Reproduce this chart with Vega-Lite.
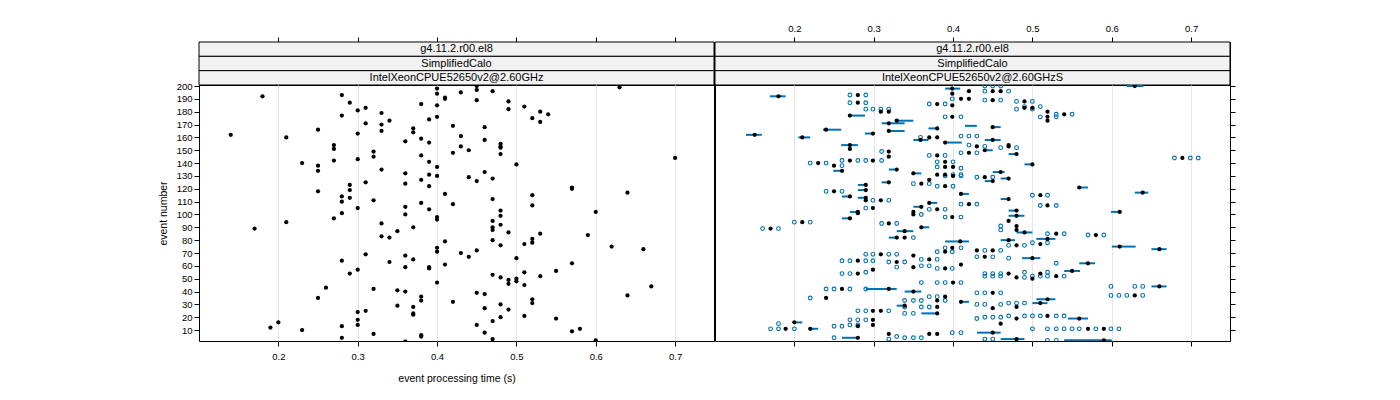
{
"$schema":"https://vega.github.io/schema/vega-lite/v6.json",
"padding":{"left":157,"top":22,"right":5,"bottom":5},
"background":"white",
"config":{"view":{"stroke":"black","strokeWidth":1},"font":"Liberation Sans",
 "axis":{"labelFont":"Liberation Sans","labelFontSize":9.5,"labelColor":"black","tickColor":"black","tickSize":5,"domain":false,"labelPadding":2,"format":".1f","titleFont":"Liberation Sans","titleFontWeight":"normal","titleFontSize":10.5,"titleColor":"black","gridColor":"#e6e6e6","gridWidth":1}},
"datasets":{
"strips":[{"panel":"L","level":1,"label":"g4.11.2.r00.el8"},{"panel":"L","level":2,"label":"SimplifiedCalo"},{"panel":"L","level":3,"label":"IntelXeonCPUE52650v2@2.60GHz"},{"panel":"R","level":1,"label":"g4.11.2.r00.el8"},{"panel":"R","level":2,"label":"SimplifiedCalo"},{"panel":"R","level":3,"label":"IntelXeonCPUE52650v2@2.60GHzS"}],
"left":[{"event":199,"time":0.63},{"event":198,"time":0.40},{"event":200,"time":0.45},{"event":197,"time":0.45},{"event":194,"time":0.40},{"event":195,"time":0.43},{"event":196,"time":0.47},{"event":192,"time":0.18},{"event":193,"time":0.28},{"event":191,"time":0.41},{"event":190,"time":0.41},{"event":189,"time":0.45},{"event":188,"time":0.49},{"event":187,"time":0.29},{"event":186,"time":0.38},{"event":185,"time":0.40},{"event":183,"time":0.31},{"event":181,"time":0.30},{"event":182,"time":0.49},{"event":184,"time":0.51},{"event":180,"time":0.53},{"event":178,"time":0.54},{"event":179,"time":0.33},{"event":177,"time":0.28},{"event":176,"time":0.40},{"event":174,"time":0.39},{"event":173,"time":0.34},{"event":175,"time":0.52},{"event":172,"time":0.53},{"event":171,"time":0.31},{"event":170,"time":0.33},{"event":169,"time":0.42},{"event":168,"time":0.46},{"event":167,"time":0.37},{"event":164,"time":0.37},{"event":166,"time":0.25},{"event":165,"time":0.33},{"event":162,"time":0.14},{"event":163,"time":0.30},{"event":160,"time":0.21},{"event":161,"time":0.43},{"event":159,"time":0.38},{"event":158,"time":0.46},{"event":157,"time":0.36},{"event":156,"time":0.39},{"event":154,"time":0.27},{"event":151,"time":0.27},{"event":155,"time":0.48},{"event":153,"time":0.48},{"event":152,"time":0.48},{"event":153,"time":0.43},{"event":150,"time":0.44},{"event":148,"time":0.42},{"event":149,"time":0.32},{"event":145,"time":0.32},{"event":147,"time":0.48},{"event":146,"time":0.38},{"event":144,"time":0.70},{"event":143,"time":0.30},{"event":142,"time":0.27},{"event":140,"time":0.23},{"event":141,"time":0.39},{"event":139,"time":0.50},{"event":138,"time":0.25},{"event":137,"time":0.40},{"event":134,"time":0.25},{"event":135,"time":0.33},{"event":132,"time":0.36},{"event":133,"time":0.46},{"event":131,"time":0.39},{"event":130,"time":0.40},{"event":129,"time":0.44},{"event":126,"time":0.45},{"event":128,"time":0.47},{"event":127,"time":0.38},{"event":125,"time":0.31},{"event":124,"time":0.36},{"event":123,"time":0.29},{"event":119,"time":0.29},{"event":122,"time":0.39},{"event":121,"time":0.57},{"event":120,"time":0.57},{"event":118,"time":0.25},{"event":117,"time":0.64},{"event":116,"time":0.41},{"event":115,"time":0.52},{"event":114,"time":0.28},{"event":110,"time":0.28},{"event":113,"time":0.29},{"event":112,"time":0.47},{"event":111,"time":0.32},{"event":109,"time":0.38},{"event":108,"time":0.42},{"event":107,"time":0.52},{"event":106,"time":0.36},{"event":105,"time":0.30},{"event":104,"time":0.39},{"event":103,"time":0.48},{"event":99,"time":0.48},{"event":102,"time":0.60},{"event":101,"time":0.28},{"event":100,"time":0.36},{"event":98,"time":0.40},{"event":96,"time":0.40},{"event":97,"time":0.27},{"event":95,"time":0.47},{"event":94,"time":0.21},{"event":93,"time":0.33},{"event":92,"time":0.48},{"event":90,"time":0.47},{"event":88,"time":0.47},{"event":89,"time":0.17},{"event":90,"time":0.37},{"event":87,"time":0.35},{"event":86,"time":0.49},{"event":85,"time":0.53},{"event":84,"time":0.59},{"event":83,"time":0.33},{"event":82,"time":0.34},{"event":81,"time":0.52},{"event":78,"time":0.52},{"event":80,"time":0.47},{"event":79,"time":0.41},{"event":77,"time":0.51},{"event":76,"time":0.48},{"event":74,"time":0.40},{"event":71,"time":0.40},{"event":75,"time":0.62},{"event":73,"time":0.66},{"event":72,"time":0.45},{"event":70,"time":0.43},{"event":67,"time":0.44},{"event":69,"time":0.31},{"event":68,"time":0.36},{"event":66,"time":0.50},{"event":64,"time":0.28},{"event":65,"time":0.37},{"event":63,"time":0.34},{"event":59,"time":0.36},{"event":59,"time":0.39},{"event":58,"time":0.39},{"event":61,"time":0.41},{"event":62,"time":0.57},{"event":57,"time":0.30},{"event":54,"time":0.29},{"event":56,"time":0.55},{"event":55,"time":0.51},{"event":52,"time":0.53},{"event":53,"time":0.47},{"event":51,"time":0.48},{"event":49,"time":0.49},{"event":46,"time":0.49},{"event":50,"time":0.50},{"event":48,"time":0.50},{"event":45,"time":0.51},{"event":47,"time":0.40},{"event":43,"time":0.26},{"event":42,"time":0.32},{"event":41,"time":0.35},{"event":40,"time":0.36},{"event":44,"time":0.67},{"event":37,"time":0.64},{"event":39,"time":0.45},{"event":38,"time":0.46},{"event":35,"time":0.25},{"event":36,"time":0.38},{"event":33,"time":0.38},{"event":32,"time":0.42},{"event":34,"time":0.52},{"event":31,"time":0.52},{"event":29,"time":0.35},{"event":28,"time":0.37},{"event":27,"time":0.46},{"event":30,"time":0.48},{"event":26,"time":0.49},{"event":24,"time":0.30},{"event":25,"time":0.31},{"event":23,"time":0.37},{"event":22,"time":0.37},{"event":21,"time":0.51},{"event":19,"time":0.55},{"event":20,"time":0.48},{"event":17,"time":0.47},{"event":14,"time":0.45},{"event":18,"time":0.30},{"event":14,"time":0.30},{"event":16,"time":0.20},{"event":12,"time":0.19},{"event":10,"time":0.23},{"event":13,"time":0.28},{"event":4,"time":0.28},{"event":7,"time":0.32},{"event":9,"time":0.57},{"event":11,"time":0.58},{"event":8,"time":0.46},{"event":3,"time":0.47},{"event":6,"time":0.38},{"event":5,"time":0.38},{"event":1,"time":0.36},{"event":2,"time":0.60}],
"rdots":[{"event":192,"time":0.180},{"event":162,"time":0.150},{"event":160,"time":0.210},{"event":166,"time":0.240},{"event":177,"time":0.270},{"event":154,"time":0.270},{"event":193,"time":0.280},{"event":187,"time":0.280},{"event":180,"time":0.309},{"event":180,"time":0.319},{"event":171,"time":0.319},{"event":173,"time":0.329},{"event":165,"time":0.319},{"event":163,"time":0.299},{"event":160,"time":0.370},{"event":160,"time":0.380},{"event":167,"time":0.380},{"event":158,"time":0.359},{"event":156,"time":0.390},{"event":186,"time":0.380},{"event":185,"time":0.399},{"event":190,"time":0.410},{"event":190,"time":0.420},{"event":198,"time":0.399},{"event":194,"time":0.399},{"event":196,"time":0.420},{"event":176,"time":0.399},{"event":196,"time":0.450},{"event":196,"time":0.460},{"event":200,"time":0.629},{"event":189,"time":0.450},{"event":188,"time":0.490},{"event":183,"time":0.490},{"event":183,"time":0.500},{"event":180,"time":0.519},{"event":178,"time":0.540},{"event":176,"time":0.519},{"event":173,"time":0.519},{"event":168,"time":0.450},{"event":158,"time":0.450},{"event":153,"time":0.430},{"event":154,"time":0.470},{"event":153,"time":0.470},{"event":151,"time":0.270},{"event":140,"time":0.230},{"event":138,"time":0.250},{"event":142,"time":0.270},{"event":142,"time":0.299},{"event":149,"time":0.319},{"event":145,"time":0.319},{"event":134,"time":0.260},{"event":135,"time":0.329},{"event":132,"time":0.350},{"event":125,"time":0.319},{"event":124,"time":0.360},{"event":127,"time":0.370},{"event":122,"time":0.390},{"event":131,"time":0.380},{"event":131,"time":0.390},{"event":130,"time":0.400},{"event":146,"time":0.380},{"event":141,"time":0.390},{"event":137,"time":0.390},{"event":137,"time":0.400},{"event":123,"time":0.290},{"event":119,"time":0.290},{"event":118,"time":0.250},{"event":114,"time":0.270},{"event":113,"time":0.290},{"event":111,"time":0.290},{"event":111,"time":0.309},{"event":105,"time":0.299},{"event":102,"time":0.280},{"event":106,"time":0.360},{"event":109,"time":0.370},{"event":104,"time":0.380},{"event":116,"time":0.410},{"event":108,"time":0.420},{"event":102,"time":0.350},{"event":148,"time":0.420},{"event":150,"time":0.440},{"event":147,"time":0.480},{"event":139,"time":0.500},{"event":144,"time":0.689},{"event":133,"time":0.460},{"event":129,"time":0.440},{"event":126,"time":0.450},{"event":128,"time":0.470},{"event":121,"time":0.559},{"event":117,"time":0.639},{"event":115,"time":0.510},{"event":112,"time":0.470},{"event":107,"time":0.519},{"event":103,"time":0.480},{"event":102,"time":0.610},{"event":89,"time":0.170},{"event":94,"time":0.210},{"event":97,"time":0.270},{"event":101,"time":0.280},{"event":93,"time":0.319},{"event":87,"time":0.339},{"event":90,"time":0.360},{"event":82,"time":0.329},{"event":82,"time":0.339},{"event":100,"time":0.350},{"event":98,"time":0.399},{"event":79,"time":0.409},{"event":74,"time":0.399},{"event":71,"time":0.390},{"event":69,"time":0.309},{"event":68,"time":0.350},{"event":65,"time":0.370},{"event":64,"time":0.280},{"event":63,"time":0.329},{"event":59,"time":0.350},{"event":58,"time":0.390},{"event":61,"time":0.410},{"event":54,"time":0.280},{"event":57,"time":0.299},{"event":99,"time":0.480},{"event":95,"time":0.470},{"event":91,"time":0.480},{"event":88,"time":0.480},{"event":86,"time":0.490},{"event":85,"time":0.530},{"event":84,"time":0.580},{"event":81,"time":0.519},{"event":77,"time":0.510},{"event":80,"time":0.470},{"event":76,"time":0.480},{"event":75,"time":0.610},{"event":73,"time":0.660},{"event":72,"time":0.430},{"event":72,"time":0.450},{"event":67,"time":0.440},{"event":66,"time":0.500},{"event":62,"time":0.570},{"event":56,"time":0.550},{"event":54,"time":0.470},{"event":54,"time":0.510},{"event":52,"time":0.530},{"event":47,"time":0.400},{"event":42,"time":0.260},{"event":42,"time":0.319},{"event":40,"time":0.350},{"event":35,"time":0.240},{"event":36,"time":0.390},{"event":33,"time":0.380},{"event":32,"time":0.410},{"event":29,"time":0.339},{"event":28,"time":0.380},{"event":25,"time":0.299},{"event":25,"time":0.309},{"event":23,"time":0.380},{"event":16,"time":0.200},{"event":18,"time":0.299},{"event":14,"time":0.299},{"event":13,"time":0.280},{"event":11,"time":0.189},{"event":11,"time":0.220},{"event":7,"time":0.319},{"event":7,"time":0.370},{"event":7,"time":0.380},{"event":4,"time":0.280},{"event":51,"time":0.480},{"event":50,"time":0.500},{"event":44,"time":0.660},{"event":37,"time":0.629},{"event":39,"time":0.450},{"event":34,"time":0.519},{"event":31,"time":0.510},{"event":27,"time":0.450},{"event":28,"time":0.480},{"event":19,"time":0.480},{"event":21,"time":0.519},{"event":19,"time":0.559},{"event":15,"time":0.460},{"event":11,"time":0.570},{"event":11,"time":0.590},{"event":8,"time":0.450},{"event":3,"time":0.480},{"event":2,"time":0.590}],
"rcircles":[{"event":193,"time":0.270},{"event":193,"time":0.290},{"event":187,"time":0.270},{"event":187,"time":0.290},{"event":182,"time":0.290},{"event":182,"time":0.299},{"event":182,"time":0.309},{"event":182,"time":0.319},{"event":160,"time":0.359},{"event":161,"time":0.410},{"event":161,"time":0.420},{"event":154,"time":0.420},{"event":186,"time":0.370},{"event":186,"time":0.390},{"event":190,"time":0.399},{"event":176,"time":0.390},{"event":176,"time":0.410},{"event":200,"time":0.440},{"event":200,"time":0.450},{"event":200,"time":0.460},{"event":196,"time":0.440},{"event":196,"time":0.470},{"event":189,"time":0.440},{"event":189,"time":0.460},{"event":188,"time":0.480},{"event":188,"time":0.500},{"event":184,"time":0.490},{"event":184,"time":0.510},{"event":182,"time":0.480},{"event":182,"time":0.500},{"event":178,"time":0.530},{"event":178,"time":0.550},{"event":176,"time":0.510},{"event":176,"time":0.530},{"event":161,"time":0.430},{"event":153,"time":0.440},{"event":152,"time":0.460},{"event":152,"time":0.480},{"event":140,"time":0.220},{"event":140,"time":0.240},{"event":138,"time":0.260},{"event":142,"time":0.260},{"event":142,"time":0.280},{"event":142,"time":0.290},{"event":142,"time":0.310},{"event":149,"time":0.310},{"event":124,"time":0.350},{"event":124,"time":0.370},{"event":122,"time":0.380},{"event":122,"time":0.400},{"event":131,"time":0.400},{"event":131,"time":0.410},{"event":130,"time":0.390},{"event":130,"time":0.410},{"event":146,"time":0.370},{"event":146,"time":0.390},{"event":141,"time":0.380},{"event":141,"time":0.400},{"event":137,"time":0.380},{"event":136,"time":0.410},{"event":118,"time":0.240},{"event":118,"time":0.260},{"event":111,"time":0.299},{"event":111,"time":0.319},{"event":105,"time":0.290},{"event":104,"time":0.370},{"event":104,"time":0.390},{"event":108,"time":0.410},{"event":148,"time":0.410},{"event":148,"time":0.430},{"event":144,"time":0.679},{"event":144,"time":0.699},{"event":144,"time":0.709},{"event":129,"time":0.430},{"event":129,"time":0.450},{"event":115,"time":0.500},{"event":115,"time":0.519},{"event":108,"time":0.430},{"event":107,"time":0.510},{"event":107,"time":0.530},{"event":89,"time":0.160},{"event":89,"time":0.180},{"event":94,"time":0.200},{"event":94,"time":0.220},{"event":93,"time":0.310},{"event":93,"time":0.329},{"event":82,"time":0.350},{"event":100,"time":0.360},{"event":98,"time":0.390},{"event":98,"time":0.410},{"event":74,"time":0.390},{"event":74,"time":0.410},{"event":71,"time":0.380},{"event":71,"time":0.399},{"event":69,"time":0.290},{"event":69,"time":0.299},{"event":69,"time":0.319},{"event":69,"time":0.329},{"event":65,"time":0.360},{"event":65,"time":0.380},{"event":64,"time":0.260},{"event":64,"time":0.270},{"event":64,"time":0.290},{"event":64,"time":0.299},{"event":63,"time":0.319},{"event":63,"time":0.339},{"event":59,"time":0.329},{"event":60,"time":0.360},{"event":60,"time":0.370},{"event":58,"time":0.380},{"event":58,"time":0.399},{"event":54,"time":0.260},{"event":54,"time":0.270},{"event":55,"time":0.290},{"event":91,"time":0.460},{"event":88,"time":0.460},{"event":85,"time":0.519},{"event":85,"time":0.540},{"event":84,"time":0.570},{"event":84,"time":0.590},{"event":78,"time":0.500},{"event":78,"time":0.519},{"event":76,"time":0.470},{"event":76,"time":0.490},{"event":72,"time":0.440},{"event":72,"time":0.460},{"event":67,"time":0.430},{"event":67,"time":0.450},{"event":66,"time":0.470},{"event":62,"time":0.530},{"event":54,"time":0.440},{"event":54,"time":0.450},{"event":54,"time":0.460},{"event":55,"time":0.490},{"event":52,"time":0.500},{"event":55,"time":0.519},{"event":52,"time":0.540},{"event":47,"time":0.360},{"event":47,"time":0.380},{"event":47,"time":0.390},{"event":47,"time":0.410},{"event":42,"time":0.240},{"event":42,"time":0.250},{"event":42,"time":0.270},{"event":42,"time":0.290},{"event":35,"time":0.220},{"event":36,"time":0.370},{"event":36,"time":0.380},{"event":33,"time":0.339},{"event":33,"time":0.350},{"event":33,"time":0.360},{"event":33,"time":0.390},{"event":28,"time":0.339},{"event":28,"time":0.360},{"event":28,"time":0.370},{"event":25,"time":0.280},{"event":25,"time":0.290},{"event":25,"time":0.319},{"event":23,"time":0.339},{"event":23,"time":0.350},{"event":15,"time":0.180},{"event":18,"time":0.270},{"event":18,"time":0.280},{"event":18,"time":0.290},{"event":14,"time":0.280},{"event":14,"time":0.270},{"event":13,"time":0.260},{"event":13,"time":0.250},{"event":11,"time":0.170},{"event":11,"time":0.180},{"event":11,"time":0.200},{"event":3,"time":0.319},{"event":5,"time":0.329},{"event":4,"time":0.339},{"event":4,"time":0.350},{"event":4,"time":0.360},{"event":4,"time":0.250},{"event":8,"time":0.399},{"event":8,"time":0.410},{"event":52,"time":0.440},{"event":52,"time":0.450},{"event":52,"time":0.460},{"event":51,"time":0.490},{"event":52,"time":0.510},{"event":52,"time":0.519},{"event":44,"time":0.599},{"event":44,"time":0.629},{"event":44,"time":0.639},{"event":37,"time":0.599},{"event":37,"time":0.609},{"event":37,"time":0.619},{"event":37,"time":0.639},{"event":39,"time":0.430},{"event":39,"time":0.440},{"event":39,"time":0.460},{"event":30,"time":0.430},{"event":30,"time":0.440},{"event":30,"time":0.460},{"event":31,"time":0.470},{"event":31,"time":0.480},{"event":31,"time":0.490},{"event":19,"time":0.430},{"event":20,"time":0.440},{"event":20,"time":0.450},{"event":20,"time":0.460},{"event":21,"time":0.470},{"event":21,"time":0.490},{"event":21,"time":0.500},{"event":21,"time":0.510},{"event":21,"time":0.530},{"event":21,"time":0.540},{"event":11,"time":0.500},{"event":11,"time":0.519},{"event":11,"time":0.530},{"event":11,"time":0.540},{"event":11,"time":0.550},{"event":11,"time":0.559},{"event":11,"time":0.580},{"event":11,"time":0.599},{"event":11,"time":0.609},{"event":3,"time":0.440},{"event":3,"time":0.450},{"event":2,"time":0.519},{"event":2,"time":0.530}],
"rsegs":[{"event":192,"time":0.169,"time2":0.189},{"event":162,"time":0.139,"time2":0.159},{"event":160,"time":0.205,"time2":0.220},{"event":166,"time":0.236,"time2":0.259},{"event":177,"time":0.268,"time2":0.289},{"event":154,"time":0.259,"time2":0.280},{"event":171,"time":0.310,"time2":0.339},{"event":173,"time":0.329,"time2":0.350},{"event":165,"time":0.319,"time2":0.339},{"event":163,"time":0.289,"time2":0.299},{"event":167,"time":0.369,"time2":0.380},{"event":158,"time":0.350,"time2":0.369},{"event":156,"time":0.390,"time2":0.411},{"event":198,"time":0.390,"time2":0.409},{"event":169,"time":0.415,"time2":0.430},{"event":200,"time":0.619,"time2":0.640},{"event":168,"time":0.450,"time2":0.460},{"event":158,"time":0.440,"time2":0.460},{"event":134,"time":0.249,"time2":0.260},{"event":135,"time":0.319,"time2":0.329},{"event":132,"time":0.350,"time2":0.360},{"event":125,"time":0.310,"time2":0.319},{"event":123,"time":0.280,"time2":0.290},{"event":119,"time":0.280,"time2":0.290},{"event":114,"time":0.260,"time2":0.270},{"event":113,"time":0.280,"time2":0.290},{"event":102,"time":0.270,"time2":0.280},{"event":106,"time":0.350,"time2":0.360},{"event":109,"time":0.370,"time2":0.380},{"event":116,"time":0.410,"time2":0.420},{"event":150,"time":0.440,"time2":0.450},{"event":147,"time":0.470,"time2":0.480},{"event":139,"time":0.490,"time2":0.500},{"event":133,"time":0.450,"time2":0.465},{"event":126,"time":0.440,"time2":0.450},{"event":128,"time":0.460,"time2":0.470},{"event":121,"time":0.559,"time2":0.570},{"event":117,"time":0.629,"time2":0.646},{"event":112,"time":0.460,"time2":0.470},{"event":103,"time":0.470,"time2":0.480},{"event":102,"time":0.599,"time2":0.610},{"event":97,"time":0.260,"time2":0.270},{"event":87,"time":0.329,"time2":0.350},{"event":90,"time":0.360,"time2":0.370},{"event":82,"time":0.319,"time2":0.329},{"event":79,"time":0.390,"time2":0.420},{"event":99,"time":0.470,"time2":0.490},{"event":86,"time":0.480,"time2":0.500},{"event":81,"time":0.505,"time2":0.529},{"event":80,"time":0.460,"time2":0.478},{"event":75,"time":0.600,"time2":0.630},{"event":73,"time":0.650,"time2":0.669},{"event":66,"time":0.487,"time2":0.510},{"event":62,"time":0.559,"time2":0.579},{"event":56,"time":0.540,"time2":0.560},{"event":42,"time":0.290,"time2":0.329},{"event":40,"time":0.339,"time2":0.360},{"event":32,"time":0.410,"time2":0.420},{"event":29,"time":0.329,"time2":0.339},{"event":23,"time":0.360,"time2":0.380},{"event":16,"time":0.200,"time2":0.210},{"event":11,"time":0.220,"time2":0.230},{"event":4,"time":0.260,"time2":0.280},{"event":44,"time":0.650,"time2":0.669},{"event":34,"time":0.505,"time2":0.529},{"event":31,"time":0.500,"time2":0.519},{"event":19,"time":0.545,"time2":0.570},{"event":8,"time":0.430,"time2":0.460},{"event":3,"time":0.460,"time2":0.490},{"event":2,"time":0.540,"time2":0.600}]
},
"spacing":-1,
"hconcat":[
 {"spacing":0,"bounds":"flush","vconcat":[
  {"width":515,"height":43,"data":{"name":"strips"},"transform":[{"filter":"datum.panel == 'L'"}],
   "encoding":{"y":{"field":"level","type":"ordinal","axis":null,"scale":{"paddingInner":0,"paddingOuter":0}}},
   "layer":[
    {"mark":{"type":"rect","fill":"#f2f2f2","stroke":"black","strokeWidth":1},
     "encoding":{"x":{"datum":0.1,"type":"quantitative","scale":{"domain":[0.1,0.749],"nice":false,"zero":false},"axis":{"orient":"top","values":[0.2,0.3,0.4,0.5,0.6,0.7],"labelOpacity":0,"labelPadding":4,"grid":false,"title":null}},"x2":{"datum":0.749}}},
    {"mark":{"type":"text","fontSize":11,"color":"black","font":"Liberation Sans"},
     "encoding":{"x":{"datum":0.4245,"type":"quantitative"},"text":{"field":"label"}}}
   ]},
  {"width":515,"height":256,"data":{"name":"left"},
   "mark":{"type":"circle","color":"black","size":18,"opacity":1,"clip":true},
   "encoding":{
    "x":{"field":"time","type":"quantitative","scale":{"domain":[0.1,0.749],"nice":false,"zero":false},"axis":{"values":[0.2,0.3,0.4,0.5,0.6,0.7],"title":"event processing time (s)","grid":true,"labelPadding":5,"titlePadding":13}},
    "y":{"field":"event","type":"quantitative","scale":{"domain":[1.5,200.8],"nice":false,"zero":false},"axis":{"values":[10,20,30,40,50,60,70,80,90,100,110,120,130,140,150,160,170,180,190,200],"format":"d","title":"event number","grid":false,"titlePadding":8}}
   }}
 ]},
 {"spacing":0,"bounds":"flush","vconcat":[
  {"width":515,"height":43,"data":{"name":"strips"},"transform":[{"filter":"datum.panel == 'R'"}],
   "encoding":{"y":{"field":"level","type":"ordinal","axis":null,"scale":{"paddingInner":0,"paddingOuter":0}}},
   "layer":[
    {"mark":{"type":"rect","fill":"#f2f2f2","stroke":"black","strokeWidth":1},
     "encoding":{"x":{"datum":0.1,"type":"quantitative","scale":{"domain":[0.1,0.749],"nice":false,"zero":false},"axis":{"orient":"top","values":[0.2,0.3,0.4,0.5,0.6,0.7],"labelPadding":4,"grid":false,"title":null}},"x2":{"datum":0.749}}},
    {"mark":{"type":"text","fontSize":11,"color":"black","font":"Liberation Sans"},
     "encoding":{"x":{"datum":0.4245,"type":"quantitative"},"text":{"field":"label"}}}
   ]},
  {"width":515,"height":256,
   "encoding":{
    "x":{"field":"time","type":"quantitative","scale":{"domain":[0.1,0.749],"nice":false,"zero":false},"axis":{"values":[0.2,0.3,0.4,0.5,0.6,0.7],"labels":false,"title":null,"grid":true}},
    "y":{"field":"event","type":"quantitative","scale":{"domain":[1.5,200.8],"nice":false,"zero":false},"axis":{"orient":"right","values":[10,20,30,40,50,60,70,80,90,100,110,120,130,140,150,160,170,180,190,200],"labels":false,"title":null,"grid":false}}
   },
   "layer":[
    {"data":{"name":"rsegs"},"mark":{"type":"rule","color":"#0072B2","strokeWidth":2,"clip":true},"encoding":{"x2":{"field":"time2"}}},
    {"data":{"name":"rcircles"},"mark":{"type":"point","shape":"circle","filled":false,"color":"#0072B2","size":14,"strokeWidth":1.1,"opacity":1,"clip":true}},
    {"data":{"name":"rdots"},"mark":{"type":"circle","color":"black","size":18,"opacity":1,"clip":true}}
   ]}
 ]}
]
}
